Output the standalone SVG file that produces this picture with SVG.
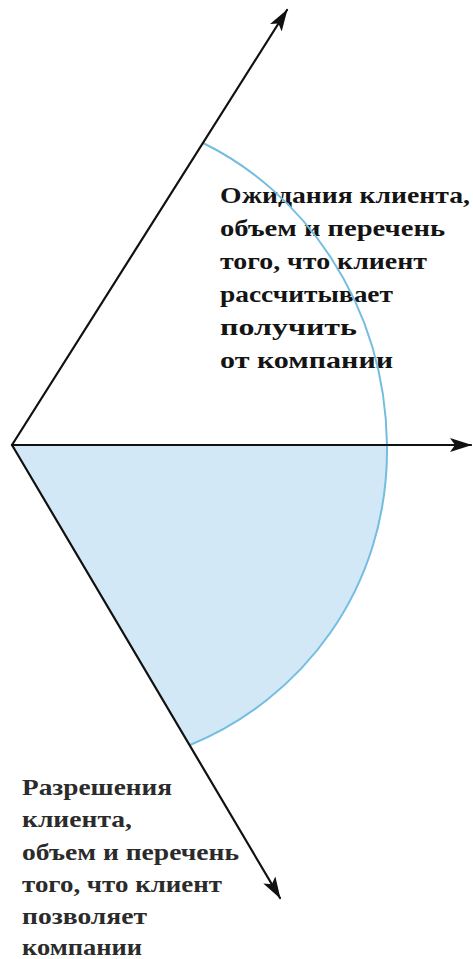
<svg xmlns="http://www.w3.org/2000/svg" width="473" height="959" viewBox="0 0 473 959">
  <style>
    .axis { stroke: #111; stroke-width: 2.2; fill: none; stroke-linecap: round; }
    .arc { stroke: #74bde0; stroke-width: 2; fill: none; }
    .sector { fill: #d2e8f6; stroke: none; }
    .lbl { font-family: "Liberation Serif", "Times New Roman", serif; font-weight: bold; }
    .up { font-size: 24px; fill: #141414; }
    .low { font-size: 23px; fill: #2b2b2b; }
  </style>
  <defs>
    <marker id="arrow" viewBox="0 0 22 14" markerWidth="22" markerHeight="14" refX="21" refY="7" orient="auto" markerUnits="userSpaceOnUse">
      <path d="M0,0 L22,7 L0,14 L5,7 Z" fill="#111"/>
    </marker>
  </defs>

  <rect width="473" height="959" fill="#ffffff"/>

  <g id="sector-fill">
    <path class="sector" d="M12,445 L387,445 C389,590 300,700 190,745 Z"/>
  </g>

  <g id="label-upper" class="lbl up">
    <text x="220" y="203" textLength="250" lengthAdjust="spacingAndGlyphs">Ожидания клиента,</text>
    <text x="220" y="236" textLength="225" lengthAdjust="spacingAndGlyphs">объем и перечень</text>
    <text x="220" y="269" textLength="207" lengthAdjust="spacingAndGlyphs">того, что клиент</text>
    <text x="220" y="302" textLength="173" lengthAdjust="spacingAndGlyphs">рассчитывает</text>
    <text x="220" y="335" textLength="137" lengthAdjust="spacingAndGlyphs">получить</text>
    <text x="220" y="368" textLength="173" lengthAdjust="spacingAndGlyphs">от компании</text>
  </g>

  <g id="label-lower" class="lbl low">
    <text x="22" y="795" textLength="150" lengthAdjust="spacingAndGlyphs">Разрешения</text>
    <text x="22" y="827" textLength="110" lengthAdjust="spacingAndGlyphs">клиента,</text>
    <text x="22" y="860" textLength="217" lengthAdjust="spacingAndGlyphs">объем и перечень</text>
    <text x="22" y="892" textLength="200" lengthAdjust="spacingAndGlyphs">того, что клиент</text>
    <text x="22" y="924" textLength="125" lengthAdjust="spacingAndGlyphs">позволяет</text>
    <text x="22" y="955" textLength="120" lengthAdjust="spacingAndGlyphs">компании</text>
  </g>

  <g id="boundary-arc">
    <path class="arc" d="M203,143 C300,190 385,300 387,445 C389,590 300,700 190,745"/>
  </g>

  <g id="connectors">
    <line id="axis-upper" class="axis" x1="12" y1="445" x2="287" y2="10" marker-end="url(#arrow)"/>
    <line id="axis-horizontal" class="axis" x1="12" y1="445" x2="471" y2="445" marker-end="url(#arrow)"/>
    <line id="axis-lower" class="axis" x1="12" y1="445" x2="280" y2="898" marker-end="url(#arrow)"/>
  </g>
</svg>
